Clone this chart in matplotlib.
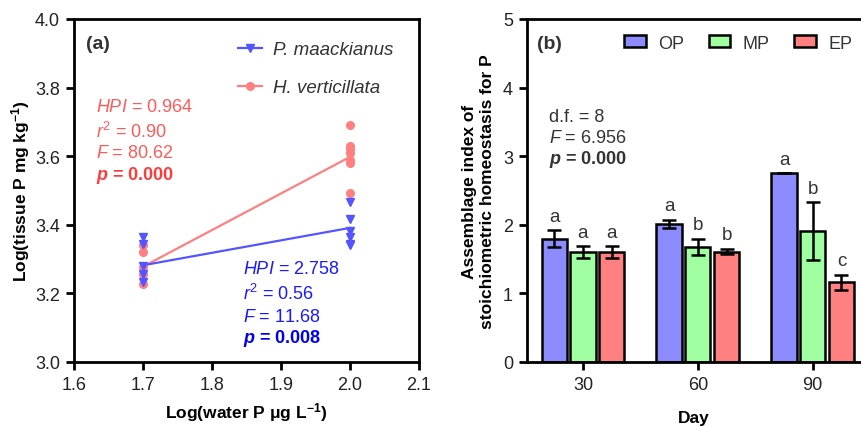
import numpy as np
import matplotlib
matplotlib.use("Agg")
import matplotlib.pyplot as plt

plt.rcParams['font.family'] = 'Liberation Sans'
plt.rcParams['mathtext.fontset'] = 'custom'
plt.rcParams['mathtext.rm'] = 'Liberation Sans'
plt.rcParams['mathtext.it'] = 'Liberation Sans:italic'
plt.rcParams['mathtext.bf'] = 'Liberation Sans:bold'
plt.rcParams['mathtext.bfit'] = 'Liberation Sans:bold:italic'

# panel (a) data
pm_x = [1.7, 1.7, 1.7, 1.7, 1.7, 2.0, 2.0, 2.0, 2.0, 2.0, 2.0]
pm_y = [3.365, 3.345, 3.28, 3.257, 3.233, 3.467, 3.418, 3.383, 3.365, 3.345, 3.34]
hv_x = [1.7, 1.7, 1.7, 1.7, 1.7, 2.0, 2.0, 2.0, 2.0, 2.0, 2.0, 2.0]
hv_y = [3.34, 3.321, 3.277, 3.257, 3.228, 3.69, 3.63, 3.62, 3.61, 3.59, 3.58, 3.493]
pm_fit_x = [1.7, 2.0]
pm_fit_y = [3.282, 3.391]
hv_fit_x = [1.7, 2.0]
hv_fit_y = [3.278, 3.598]

# panel (b) data
days = ['30', '60', '90']
groups = ['OP', 'MP', 'EP']
means = {'OP': [1.80, 2.01, 2.75], 'MP': [1.60, 1.68, 1.91], 'EP': [1.60, 1.61, 1.16]}
errs = {'OP': [0.12, 0.06, 0.0], 'MP': [0.09, 0.12, 0.42], 'EP': [0.09, 0.04, 0.11]}
letters = {'OP': ['a', 'a', 'a'], 'MP': ['a', 'b', 'b'], 'EP': ['a', 'b', 'c']}
colors = {'OP': '#8c8cff', 'MP': '#a0ffa0', 'EP': '#ff8080'}

blue = '#5555ff'
red = '#ff8080'
tcol = '#222222'

fig = plt.figure(figsize=(8.61, 4.27), dpi=100)
ax1 = fig.add_axes([74 / 861, 1 - 363 / 427, 345 / 861, 343 / 427])
ax2 = fig.add_axes([527 / 861, 1 - 363 / 427, 334 / 861, 343 / 427])

for ax in (ax1, ax2):
    for s in ax.spines.values():
        s.set_linewidth(2)
    ax.tick_params(direction='out', length=6, width=2, labelsize=13, labelcolor=tcol, pad=4)

# ---- panel a
ax1.plot(hv_fit_x, hv_fit_y, color=red, lw=1.6, zorder=2)
ax1.plot(pm_fit_x, pm_fit_y, color=blue, lw=1.6, zorder=2)
ax1.plot(hv_x, hv_y, 'o', color=red, ms=5.5, zorder=3)
ax1.plot(pm_x, pm_y, 'v', color=blue, ms=6, zorder=4)
h1, = ax1.plot([], [], '-v', color=blue, lw=1.6, ms=6, label='P. maackianus')
h2, = ax1.plot([], [], '-o', color=red, lw=1.6, ms=5.5, label='H. verticillata')
leg = ax1.legend(handles=[h1, h2], loc='center left', bbox_to_anchor=(164 / 345, 0.855), frameon=False,
                 prop={'style': 'italic', 'size': 13.5}, handlelength=1.3, labelspacing=1.1,
                 handletextpad=0.55, borderpad=0, borderaxespad=0)
for t in leg.get_texts():
    t.set_color('#333333')

ax1.set_xlim(1.6, 2.1)
ax1.set_ylim(3.0, 4.0)
ax1.set_xticks(np.arange(1.6, 2.11, 0.1))
ax1.set_xticklabels(['1.6', '1.7', '1.8', '1.9', '2.0', '2.1'])
ax1.set_yticks(np.arange(3.0, 4.01, 0.2))
ax1.set_yticklabels(['3.0', '3.2', '3.4', '3.6', '3.8', '4.0'])
ax1.set_xlabel('Log(water P μg L$^{\\mathbf{-1}}$)', fontsize=12.5, fontweight='bold', labelpad=5)
ax1.set_ylabel('Log(tissue P mg kg$^{\\mathbf{-1}}$)', fontsize=12.5, fontweight='bold', labelpad=2)
ax1.text(0.035, 0.93, '(a)', transform=ax1.transAxes, fontsize=14, fontweight='bold', color='#333333', va='center')

rc = '#ff5a5a'
kw = dict(transform=ax1.transAxes, fontsize=13, va='center')
ax1.text(0.065, 0.745, '$HPI$ = 0.964', color=rc, **kw)
ax1.text(0.065, 0.675, '$r^2$ = 0.90', color=rc, **kw)
ax1.text(0.065, 0.612, '$F$ = 80.62', color=rc, **kw)
ax1.text(0.065, 0.548, '$\\mathbfit{p}$ = 0.000', color='#ff3c3c', fontweight='bold', **kw)
bc = '#1a1aff'
ax1.text(0.49, 0.272, '$HPI$ = 2.758', color=bc, **kw)
ax1.text(0.49, 0.2, '$r^2$ = 0.56', color=bc, **kw)
ax1.text(0.49, 0.134, '$F$ = 11.68', color=bc, **kw)
ax1.text(0.49, 0.07, '$\\mathbfit{p}$ = 0.008', color='#0000ee', fontweight='bold', **kw)

# ---- panel b
x = np.arange(len(days))
offs = {'OP': -0.25, 'MP': 0.0, 'EP': 0.25}
for g in groups:
    xs = x + offs[g]
    ax2.bar(xs, means[g], width=0.22, color=colors[g], edgecolor='black', linewidth=1.8, label=g, zorder=2)
    ax2.errorbar(xs, means[g], yerr=errs[g], fmt='none', ecolor='black',
                 elinewidth=1.8, capsize=5, capthick=1.8, zorder=3)
    for xi, m, e, l in zip(xs, means[g], errs[g], letters[g]):
        ax2.annotate(l, (xi, m + e), xytext=(0, 4), textcoords='offset points', ha='center', va='bottom',
                     fontsize=13.5, color='#333333')

ax2.set_xlim(-0.487, 2.42)
ax2.set_ylim(0, 5)
ax2.set_xticks(x)
ax2.set_xticklabels(days)
ax2.set_yticks(range(6))
ax2.set_xlabel('Day', fontsize=12.5, fontweight='bold', labelpad=12)
ax2.set_ylabel('Assemblage index of\nstoichiometric homeostasis for P', fontsize=12.5, fontweight='bold', labelpad=6)
ax2.spines['right'].set_visible(False)
ax2.text(0.03, 0.93, '(b)', transform=ax2.transAxes, fontsize=14, fontweight='bold', color='#333333', va='center')
ax2.legend(loc='center left', bbox_to_anchor=(97 / 334, 0.93), ncol=3, frameon=False, fontsize=13,
           handlelength=1.2, handleheight=0.6, columnspacing=1.35, handletextpad=0.7,
           borderpad=0, borderaxespad=0, labelcolor='#333333')
kb = dict(transform=ax2.transAxes, fontsize=13, va='center', color='#333333')
ax2.text(0.065, 0.715, 'd.f. = 8', **kb)
ax2.text(0.065, 0.655, '$F$ = 6.956', **kb)
ax2.text(0.065, 0.592, '$\\mathbfit{p}$ = 0.000', fontweight='bold', **kb)

fig.savefig('out.png', dpi=100)
